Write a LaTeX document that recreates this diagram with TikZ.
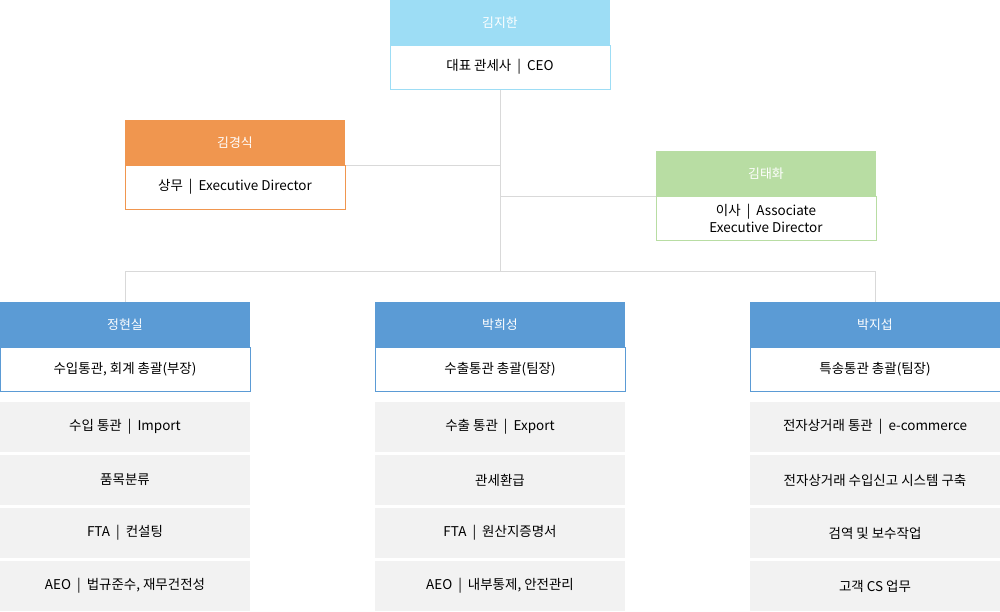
\documentclass[tikz,border=0pt]{standalone}
\usepackage{fontspec}
\setmainfont{Noto Sans CJK KR}
\definecolor{ceoblue}{HTML}{9DDDF5}
\definecolor{orng}{HTML}{F0964F}
\definecolor{grn}{HTML}{B8DDA3}
\definecolor{dept}{HTML}{5B9BD5}
\definecolor{itemgray}{HTML}{F2F2F2}
\definecolor{linegray}{HTML}{D9D9D9}
\tikzset{
  hdr/.style={fill=#1, text=white, minimum height=1.35cm, inner sep=0pt, font=\fontsize{11}{13}\selectfont},
  bodybox/.style={draw=#1, fill=white, minimum height=1.32cm, inner sep=0pt, align=center, font=\fontsize{11.5}{14}\selectfont},
  itembox/.style={fill=itemgray, minimum width=7.5cm, minimum height=1.5cm, inner sep=0pt, font=\fontsize{11.5}{14}\selectfont},
  conn/.style={draw=linegray, line width=0.6pt}
}
\begin{document}
\begin{tikzpicture}[x=0.03cm, y=-0.03cm]
  \useasboundingbox (0,0) rectangle (1000,611);

  % connectors
  \coordinate (top) at (500,89);
  \coordinate (j1) at (500,165);
  \coordinate (j2) at (500,196);
  \coordinate (hub) at (500,271);
  \coordinate (hl) at (125,271);
  \coordinate (hr) at (875,271);
  \draw[conn] (top) -- (hub);
  \draw[conn] (345,165) -- (j1);
  \draw[conn] (j2) -- (656,196);
  \draw[conn] (hl) -- (hr);
  \draw[conn] (hl) -- (125,302);
  \draw[conn] (hr) -- (875,302);

  % CEO
  \node[hdr=ceoblue, minimum width=6.6cm] (ceo) at (500,22.5) {김지한};
  \node[bodybox=ceoblue, minimum width=6.6cm] (ceob) at (500,67) {대표 관세사 \ | \ CEO};

  % directors
  \node[hdr=orng, minimum width=6.6cm] (kks) at (235,142.5) {김경식};
  \node[bodybox=orng, minimum width=6.6cm] (kksb) at (235,187) {상무 \ | \ Executive Director};
  \node[hdr=grn, minimum width=6.6cm] (kth) at (766,173.5) {김태화};
  \node[bodybox=grn, minimum width=6.6cm] (kthb) at (766,218.5) {이사 \ | \ Associate\\Executive Director};

  % departments
  \foreach \cx/\nm/\rl [count=\i] in {125/정현실/{수입통관, 회계 총괄(부장)}, 500/박희성/{수출통관 총괄(팀장)}, 875/박지섭/{특송통관 총괄(팀장)}} {
    \node[hdr=dept, minimum width=7.5cm] (dept\i) at (\cx,324.5) {\nm};
    \node[bodybox=dept, minimum width=7.5cm] (role\i) at (\cx,369) {\rl};
  }

  % duties
  \foreach \a/\b/\c [count=\r] in {
    {수입 통관 \ | \ Import}/{수출 통관 \ | \ Export}/{전자상거래 통관 \ | \ e-commerce},
    {품목분류}/{관세환급}/{전자상거래 수입신고 시스템 구축},
    {FTA \ | \ 컨설팅}/{FTA \ | \ 원산지증명서}/{검역 및 보수작업},
    {AEO \ | \ 법규준수, 재무건전성}/{AEO \ | \ 내부통제, 안전관리}/{고객 CS 업무}} {
    \node[itembox] (itemA\r) at (125,{427+53*(\r-1)}) {\a};
    \node[itembox] (itemB\r) at (500,{427+53*(\r-1)}) {\b};
    \node[itembox] (itemC\r) at (875,{427+53*(\r-1)}) {\c};
  }
\end{tikzpicture}
\end{document}
